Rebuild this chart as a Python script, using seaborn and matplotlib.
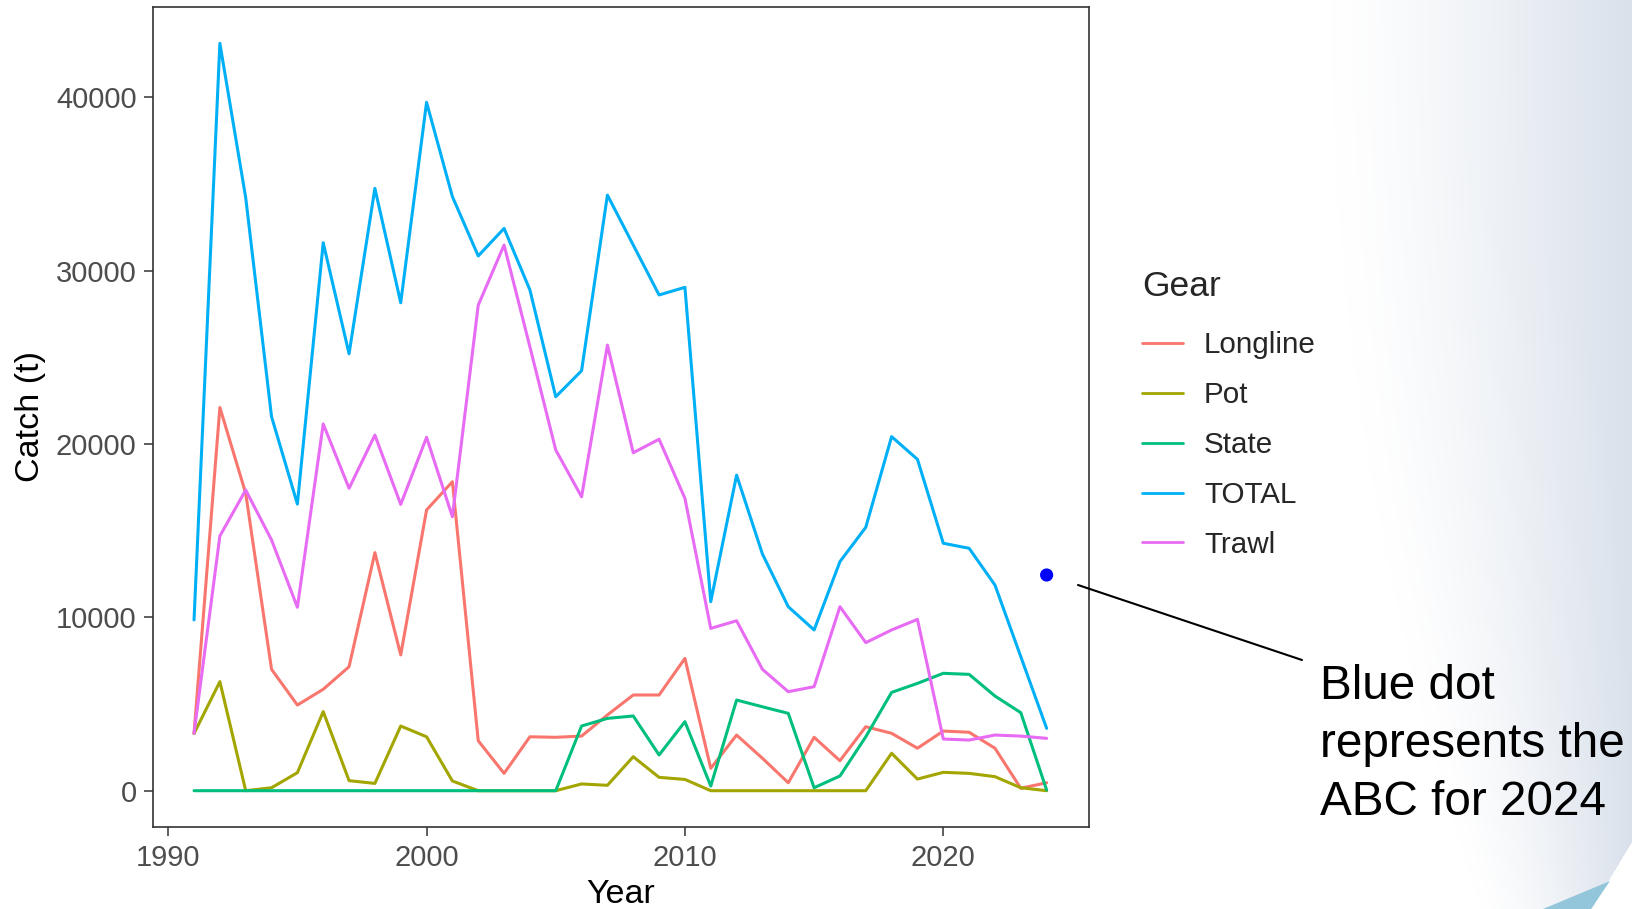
import numpy as np
import pandas as pd
import matplotlib
matplotlib.use("Agg")
import matplotlib.pyplot as plt
from matplotlib.lines import Line2D
from matplotlib.patches import Polygon
import seaborn as sns

# ---------------- data ----------------
years = list(range(1991, 2025))
gears = ["Longline", "Pot", "State", "TOTAL", "Trawl"]
longline = [3300, 22100, 17150, 7000, 4940, 5850, 7150, 13730, 7830, 16190,
            17820, 2880, 1000, 3110, 3080, 3150, 4370, 5520, 5520, 7630,
            1290, 3210, 1870, 460, 3080, 1730, 3690, 3310, 2450, 3440,
            3370, 2450, 140, 460]
pot = [3300, 6290, 0, 170, 1040, 4560, 580, 420, 3730, 3110,
       560, 0, 0, 0, 0, 390, 310, 1960, 770, 650,
       0, 0, 0, 0, 0, 0, 0, 2160, 670, 1060,
       1000, 810, 170, 0]
state = [0, 0, 0, 0, 0, 0, 0, 0, 0, 0,
         0, 0, 0, 0, 0, 3730, 4170, 4310, 2060, 3980,
         270, 5230, 4840, 4460, 170, 850, 3110, 5670, 6190, 6770,
         6710, 5460, 4500, 40]
total = [9850, 43100, 34200, 21570, 16530, 31600, 25200, 34740, 28140, 39700,
         34260, 30840, 32430, 28880, 22720, 24220, 34350, 31470, 28590, 29030,
         10900, 18200, 13650, 10610, 9270, 13210, 15190, 20420, 19110, 14270,
         13980, 11860, 7730, 3600]
trawl = [3310, 14690, 17340, 14460, 10580, 21150, 17440, 20510, 16510, 20380,
         15800, 28000, 31470, 25600, 19650, 16950, 25700, 19490, 20270, 16860,
         9360, 9800, 7000, 5710, 6000, 10610, 8540, 9270, 9880, 2980,
         2920, 3210, 3150, 3020]
abc_year = [2024]
abc_value = [12440]
x_ticks = [1990, 2000, 2010, 2020]
y_ticks = [0, 10000, 20000, 30000, 40000]
annotation = "Blue dot\nrepresents the\nABC for 2024"

series = {"Longline": longline, "Pot": pot, "State": state, "TOTAL": total, "Trawl": trawl}
df = pd.DataFrame([
    {"Year": y, "Catch": v, "Gear": g}
    for g in gears for y, v in zip(years, series[g])
])
palette = {"Longline": "#F8766D", "Pot": "#A3A500", "State": "#00BF7D",
           "TOTAL": "#00B0F6", "Trawl": "#E76BF3"}

# ---------------- style ----------------
sns.set_theme(style="white")
plt.rcParams["font.family"] = ["Liberation Sans", "DejaVu Sans"]

W, H = 1633, 909
fig = plt.figure(figsize=(W / 100, H / 100), dpi=100)

# slide background gradient (decorative)
bg = fig.add_axes([0, 0, 1, 1], zorder=-10)
bg.set_axis_off()
xx, yy = np.meshgrid(np.arange(W), np.arange(H))
edge = 1330 + 150 * (yy / H) ** 2
t = np.clip((xx - edge) / (W - edge + 1), 0, 1) ** 1.3
img = np.ones((H, W, 3))
target = np.array([0.85, 0.88, 0.92])
img = img * (1 - t[..., None]) + target * t[..., None]
white_corner = (yy > 839) & (xx > 1633 - 0.6 * (yy - 839))
img[white_corner] = 1.0
bg.imshow(img, extent=[0, W, H, 0], aspect="auto")
bg.add_patch(Polygon([[1543, 909], [1610, 881], [1591, 909]], closed=True,
                     facecolor="#93C6DA", edgecolor="none"))
bg.set_xlim(0, W)
bg.set_ylim(H, 0)

ax = fig.add_axes([152.7 / W, 1 - 826.7 / H, (1089 - 152.7) / W, (826.7 - 7.3) / H])
ax.set_facecolor("white")

sns.lineplot(data=df, x="Year", y="Catch", hue="Gear", hue_order=gears,
             palette=palette, linewidth=2.2, ax=ax)
sns.scatterplot(x=abc_year, y=abc_value, color="#0000FF", s=90,
                edgecolor="none", ax=ax, legend=False, zorder=5)

ax.set_xlim(1989.4, 2025.64)
ax.set_ylim(-2076, 45180)
ax.set_xticks(x_ticks)
ax.set_yticks(y_ticks)
ax.set_xticklabels([str(v) for v in x_ticks])
ax.set_yticklabels([str(v) for v in y_ticks])
ax.tick_params(axis="both", which="major", direction="out", length=6.5,
               width=1.1, color="#333333", labelsize=21, labelcolor="#4D4D4D",
               bottom=True, left=True)
ax.tick_params(axis="x", pad=6)
ax.tick_params(axis="y", pad=5)
for sp in ax.spines.values():
    sp.set_color("#333333")
    sp.set_linewidth(1.2)
ax.grid(False)
ax.set_xlabel("Year", fontsize=24.5, color="black", labelpad=5)
ax.set_ylabel("Catch (t)", fontsize=24.5, color="black", labelpad=7)

leg = ax.legend(title="Gear", loc="upper left",
                bbox_to_anchor=(1127 / W, 1 - 255 / H),
                bbox_transform=fig.transFigure, frameon=False,
                fontsize=21.3, title_fontsize=25.5, handlelength=1.4,
                handletextpad=0.7, labelspacing=0.74, borderpad=0,
                alignment="left")
leg._legend_box.sep = 20.5
for line in leg.get_lines():
    line.set_linewidth(2.0)

# annotation line and text
fig.add_artist(Line2D([1078 / W, 1302 / W], [1 - 585 / H, 1 - 660 / H],
                      transform=fig.transFigure, color="black", linewidth=1.5))
fig.text(1320 / W, 1 - 744.5 / H, annotation, fontsize=34.3, color="black",
         ha="left", va="center", linespacing=1.37)

fig.savefig("out.png", dpi=100)
